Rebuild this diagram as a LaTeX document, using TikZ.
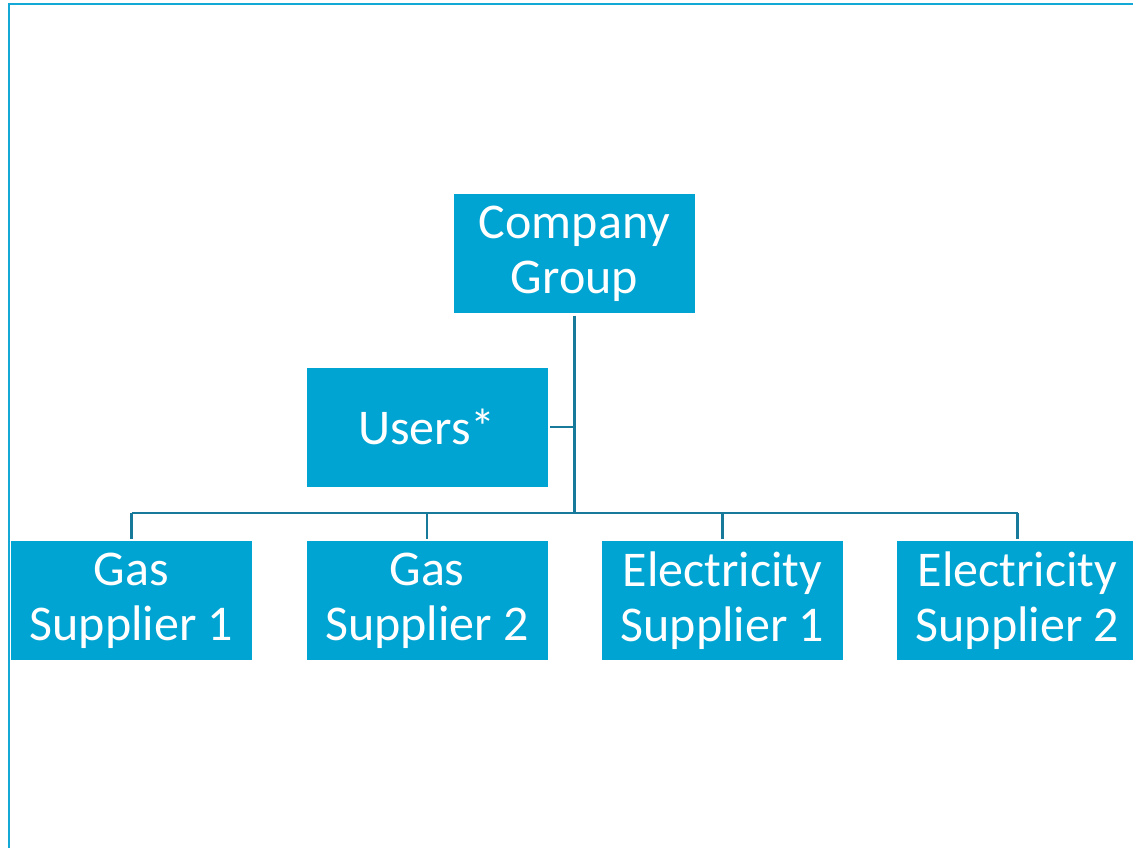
\documentclass[tikz,border=0pt]{standalone}
\usepackage{fontspec}
\setmainfont{Carlito}
\definecolor{boxfill}{RGB}{0,164,210}
\definecolor{linkcol}{RGB}{24,122,155}
\definecolor{framecol}{RGB}{20,168,214}
\begin{document}
\begin{tikzpicture}[x=1pt,y=-1pt,
  orgbox/.style={fill=boxfill,text=white,minimum width=241pt,minimum height=119pt,
    inner sep=0pt,outer sep=2.5pt,align=center,font=\fontsize{50}{55}\selectfont},
  link/.style={draw=linkcol,line width=2.5pt}]
\useasboundingbox (0,0) rectangle (1133,848);
\clip (0,0) rectangle (1133,848);
\draw[framecol,line width=2pt] (9,849) -- (9,4) -- (1134,4);
\node[orgbox] (company) at (574.5,253.5) {Company\\Group};
\node[orgbox] (users) at (427,427) {Users*};
\node[orgbox] (gas1) at (131.5,600.5) {Gas\\Supplier 1};
\node[orgbox] (gas2) at (427,600.5) {Gas\\Supplier 2};
\node[orgbox] (el1) at (722.5,600.5) {Electricity\\Supplier 1};
\node[orgbox] (el2) at (1017.5,600.5) {Electricity\\Supplier 2};
\coordinate (bus) at (575,513);
\draw[link] (company.south) -- (company.south |- bus);
\draw[link] (gas1.north |- bus) -- (el2.north |- bus);
\draw[link] (users.east) -- (users.east -| company.south);
\foreach \n in {gas1,gas2,el1,el2}
  \draw[link] (\n.north |- bus) -- (\n.north);
\end{tikzpicture}
\end{document}
